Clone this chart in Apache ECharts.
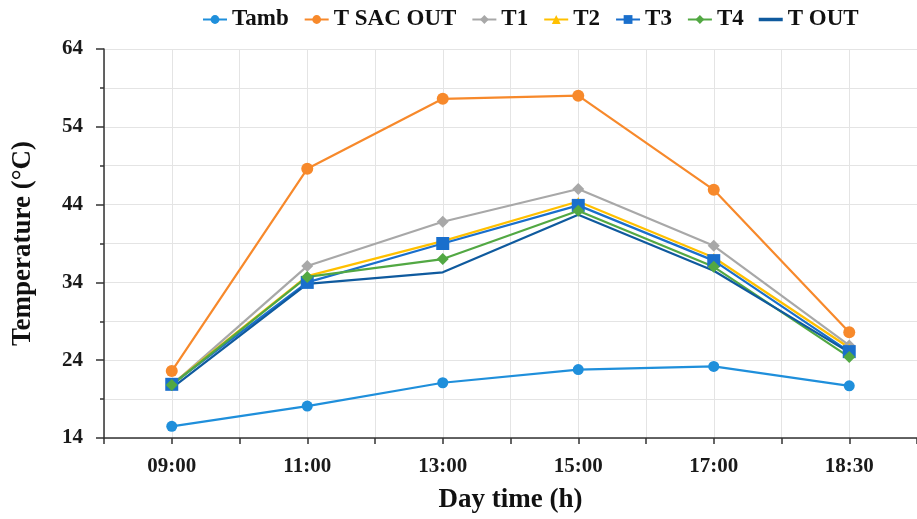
<!DOCTYPE html>
<html>
<head>
<meta charset="utf-8">
<script src="https://cdn.jsdelivr.net/npm/echarts@6/dist/echarts.min.js"></script>
<style>html,body{margin:0;padding:0;background:#fff;}#c{width:917px;height:519px;}</style>
</head>
<body>
<div id="c"></div>
<script>
const categories = ['09:00', '11:00', '13:00', '15:00', '17:00', '18:30'];
const tamb    = [15.5, 18.1, 21.1, 22.8, 23.2, 20.7];
const tSacOut = [22.6, 48.6, 57.6, 58.0, 45.9, 27.6];
const t1      = [20.8, 36.1, 41.8, 46.0, 38.7, 25.9];
const t2      = [20.9, 34.8, 39.3, 44.4, 37.2, 25.6];
const t3      = [20.9, 34.0, 39.0, 43.9, 36.8, 25.1];
const t4      = [20.8, 34.7, 37.0, 43.2, 36.0, 24.4];
const tOut    = [20.4, 33.8, 35.3, 42.7, 35.5, 25.0];
const seriesNames = ['Tamb', 'T SAC OUT', 'T1', 'T2', 'T3', 'T4', 'T OUT'];
const yTicks = { min: 14, max: 64, step: 10 };

const FONT = '"Liberation Serif", "Times New Roman", serif';
const gridColor = '#e4e4e4';
const halfSteps = new Array(categories.length * 2 + 1).fill('');

function mk(name, data, color, symbol, size) {
  return {
    name: name, type: 'line', data: data, xAxisIndex: 0,
    symbol: symbol, symbolSize: size, showSymbol: symbol !== 'none',
    lineStyle: { color: color, width: 2.2 },
    itemStyle: { color: color },
    emphasis: { disabled: true }
  };
}

const legendData = seriesNames.map(function (n) {
  return n === 'T OUT' ? { name: n, icon: 'path://M0,0 L24,0 L24,3.5 L0,3.5 Z' } : { name: n };
});

const chart = echarts.init(document.getElementById('c'), null, { renderer: 'canvas' });
chart.setOption({
  animation: false,
  backgroundColor: '#fff',
  legend: {
    top: 3, left: 197,
    itemWidth: 24, itemHeight: 11, itemGap: 15,
    textStyle: { fontFamily: FONT, fontWeight: 'bold', fontSize: 23, color: '#111' },
    data: legendData
  },
  grid: { left: 104, top: 49, width: 816, height: 391, containLabel: false },
  xAxis: [
    {
      type: 'category', data: categories, boundaryGap: true, position: 'bottom',
      axisLine: { show: false }, axisTick: { show: false }, splitLine: { show: false },
      axisLabel: { fontFamily: FONT, fontWeight: 'bold', fontSize: 21, color: '#1a1a1a', margin: 18 },
      name: 'Day time (h)', nameLocation: 'middle', nameGap: 49,
      nameTextStyle: { fontFamily: FONT, fontWeight: 'bold', fontSize: 27, color: '#111' }
    },
    {
      type: 'category', data: halfSteps, boundaryGap: false, position: 'bottom',
      axisLine: { show: true, lineStyle: { color: '#333', width: 1.5 } },
      axisTick: { show: true, interval: 0, length: 6, lineStyle: { color: '#333', width: 1.5 } },
      splitLine: { show: true, interval: 0, lineStyle: { color: gridColor, width: 1 } },
      axisLabel: { show: false }
    }
  ],
  yAxis: {
    type: 'value', min: yTicks.min, max: yTicks.max, interval: yTicks.step,
    axisLine: { show: true, lineStyle: { color: '#333', width: 1.5 } },
    axisTick: { show: true, length: 8, lineStyle: { color: '#333', width: 1.5 } },
    minorTick: { show: true, splitNumber: 2, length: 4, lineStyle: { color: '#333', width: 1.5 } },
    splitLine: { show: true, lineStyle: { color: gridColor, width: 1 } },
    minorSplitLine: { show: true, lineStyle: { color: gridColor, width: 1 } },
    axisLabel: { fontFamily: FONT, fontWeight: 'bold', fontSize: 21, color: '#1a1a1a', margin: 21 },
    name: 'Temperature (°C)', nameLocation: 'middle', nameGap: 67, nameRotate: 90,
    nameTextStyle: { fontFamily: FONT, fontWeight: 'bold', fontSize: 27, color: '#111' }
  },
  series: [
    mk(seriesNames[0], tamb, '#1f8fdb', 'circle', 11),
    mk(seriesNames[1], tSacOut, '#f7892b', 'circle', 12),
    mk(seriesNames[2], t1, '#a8a8a8', 'diamond', 12),
    mk(seriesNames[3], t2, '#ffc000', 'triangle', 9),
    mk(seriesNames[4], t3, '#1a6fcc', 'rect', 13),
    mk(seriesNames[5], t4, '#52a843', 'diamond', 12),
    mk(seriesNames[6], tOut, '#0f5a9e', 'none', 0)
  ]
});
</script>
</body>
</html>
